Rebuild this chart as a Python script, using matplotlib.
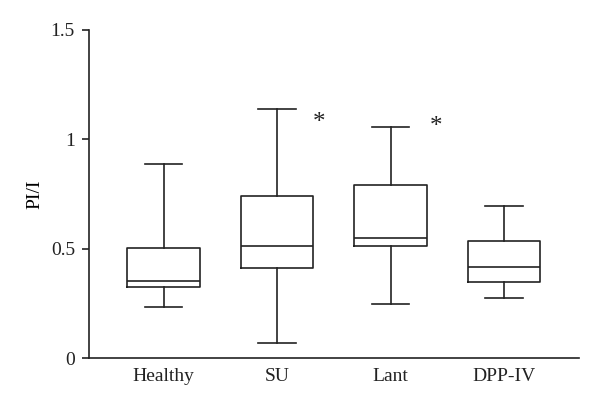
import matplotlib
matplotlib.use("Agg")
import matplotlib.pyplot as plt

# box statistics
groups = ["Healthy", "SU", "Lant", "DPP-IV"]
whislo = [0.235, 0.07, 0.248, 0.276]
q1 = [0.326, 0.412, 0.514, 0.349]
med = [0.352, 0.514, 0.550, 0.417]
q3 = [0.503, 0.741, 0.791, 0.536]
whishi = [0.887, 1.14, 1.058, 0.694]

# significance markers
star_x = [2.37, 3.40]
star_y = [1.075, 1.055]

plt.rcParams["font.family"] = ["Liberation Serif", "DejaVu Serif"]

stats = []
for i, name in enumerate(groups):
    stats.append(dict(label=name, whislo=whislo[i], q1=q1[i], med=med[i],
                      q3=q3[i], whishi=whishi[i], fliers=[]))

fig = plt.figure(figsize=(6, 4.05), dpi=100)
ax = fig.add_axes([0.148, 0.116, 0.817, 0.81])

lw = 1.2
ax.bxp(stats, positions=range(1, 5), widths=0.64, showfliers=False,
       boxprops=dict(color="#222222", linewidth=lw),
       medianprops=dict(color="#222222", linewidth=lw),
       whiskerprops=dict(color="#222222", linewidth=lw),
       capprops=dict(color="#222222", linewidth=lw),
       capwidths=0.33)

for x, y in zip(star_x, star_y):
    ax.text(x, y, "*", ha="center", va="center", fontsize=18, color="#222222")

ax.set_xlim(0.34, 4.66)
ax.set_ylim(0, 1.5)
ax.set_yticks([0, 0.5, 1, 1.5])
ax.set_yticklabels(["0", "0.5", "1", "1.5"])
ax.set_ylabel("PI/I", fontsize=14, labelpad=5)

for s in ["top", "right"]:
    ax.spines[s].set_visible(False)
for s in ["left", "bottom"]:
    ax.spines[s].set_linewidth(lw)
    ax.spines[s].set_color("#222222")

ax.tick_params(axis="y", direction="out", length=5, width=lw, labelsize=14,
               pad=5, colors="#222222")
ax.tick_params(axis="x", length=0, labelsize=14, pad=7, colors="#222222")

fig.savefig("out.png", dpi=100)
